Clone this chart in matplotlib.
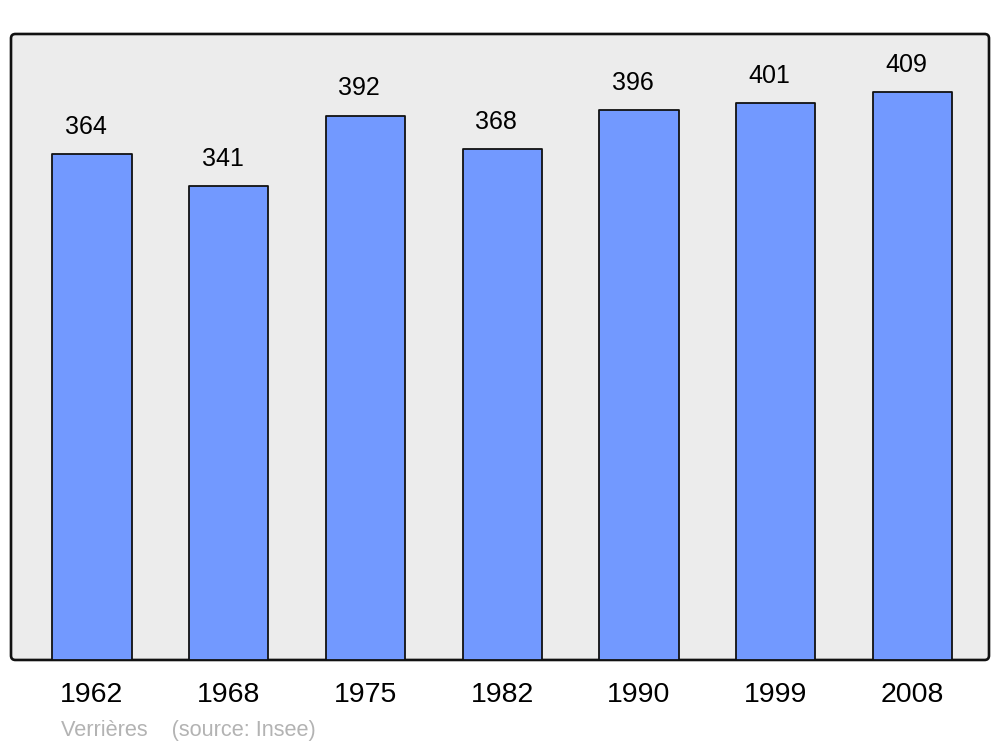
import matplotlib
matplotlib.use("Agg")
import matplotlib.pyplot as plt
from matplotlib.patches import FancyBboxPatch

years = ["1962", "1968", "1975", "1982", "1990", "1999", "2008"]
population = [364, 341, 392, 368, 396, 401, 409]

plt.rcParams['font.family'] = ['Liberation Sans', 'DejaVu Sans']

fig = plt.figure(figsize=(10, 7.47), dpi=100)
ax = fig.add_axes([0.011, 0.1165, 0.978, 0.838])
ax.set_facecolor("none")

# rounded panel behind the bars
panel = FancyBboxPatch((0, 0), 1, 1, boxstyle="round,pad=0,rounding_size=0.0045",
                       mutation_aspect=1.56, transform=ax.transAxes,
                       facecolor="#ececec", edgecolor="#111111", linewidth=1.9,
                       clip_on=False, zorder=0)
ax.add_patch(panel)

x = range(len(years))
bars = ax.bar(x, population, width=0.58, color="#7299ff", edgecolor="#111111",
              linewidth=1.3, zorder=2)
for b in bars:
    b.set_joinstyle("round")

for xi, v in zip(x, population):
    ax.annotate(str(v), (xi, v), xytext=(-4.5, 11), textcoords="offset points",
                ha="center", va="bottom", fontsize=18, color="black")

ax.set_xlim(-0.592, 6.56)
ax.set_ylim(0, 450.7)
ax.set_yticks([])
ax.set_xticks(list(x))
ax.set_xticklabels(years, fontsize=20.5)
ax.tick_params(axis="x", length=0, pad=16)
for s in ax.spines.values():
    s.set_visible(False)

fig.text(0.061, 0.008, "Verrières    (source: Insee)", fontsize=15.7, color="#b3b3b3",
         ha="left", va="bottom")

fig.savefig("out.png", dpi=100, facecolor="white")
